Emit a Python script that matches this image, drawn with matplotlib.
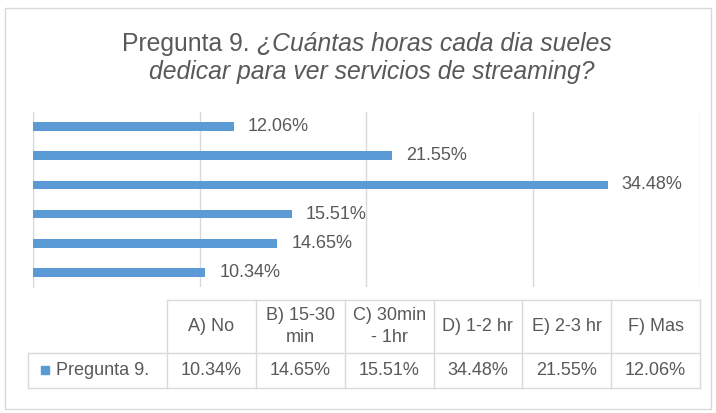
import matplotlib
matplotlib.use("Agg")
import matplotlib.pyplot as plt
import numpy as np
from matplotlib.patches import Rectangle

# data
categories = ["A) No", "B) 15-30\nmin", "C) 30min\n- 1hr", "D) 1-2 hr", "E) 2-3 hr", "F) Mas"]
values = [10.34, 14.65, 15.51, 34.48, 21.55, 12.06]
series_name = "Pregunta 9."
title_plain = "Pregunta 9. "
title_italic_1 = "¿Cuántas horas cada dia sueles"
title_italic_2 = "dedicar para ver servicios de streaming?"

W, H = 716, 413
BLUE = "#5B9BD5"
TXT = "#595959"
GRID = "#D9D9D9"
FONT = "Liberation Sans"

plt.rcParams["font.family"] = [FONT, "DejaVu Sans"]

fig = plt.figure(figsize=(W / 100, H / 100), dpi=100)
fig.patch.set_facecolor("white")

# overlay axes in pixel coords for border, title, data table
ov = fig.add_axes([0, 0, 1, 1])
ov.set_xlim(0, W)
ov.set_ylim(H, 0)
ov.axis("off")
ov.add_patch(Rectangle((5, 8), 706, 401, fill=False, edgecolor=GRID, lw=1))

# bar chart
left, right, top, bottom = 33, 700, 112, 287
ax = fig.add_axes([left / W, 1 - bottom / H, (right - left) / W, (bottom - top) / H])
y = np.arange(len(values))
bars = ax.barh(y, values, height=0.3, color=BLUE, zorder=3)
ax.bar_label(bars, labels=[f"{v:.2f}%" for v in values], padding=10,
             fontsize=13, color=TXT)
ax.set_xlim(0, 40)
ax.set_ylim(-0.5, len(values) - 0.5)
ax.set_xticks(np.arange(0, 41, 10))
ax.grid(axis="x", color=GRID, lw=1, zorder=0)
ax.tick_params(left=False, bottom=False, labelleft=False, labelbottom=False)
for s in ["top", "right", "bottom"]:
    ax.spines[s].set_visible(False)
ax.spines["left"].set_color(GRID)
ax.set_facecolor("none")

# title, first line mixes plain and italic
fig.canvas.draw()
r = fig.canvas.get_renderer()
cx = 367
tsize = 17.8
t1 = ov.text(0, 44, title_plain, fontsize=tsize, color=TXT, va="center", ha="left")
t2 = ov.text(0, 44, title_italic_1, fontsize=tsize, color=TXT, va="center", ha="left",
             style="italic")
w1 = t1.get_window_extent(r).width
w2 = t2.get_window_extent(r).width
x0 = cx - (w1 + w2) / 2
t1.set_x(x0)
t2.set_x(x0 + w1)
ov.text(cx + 5, 72, title_italic_2, fontsize=tsize, color=TXT, va="center", ha="center",
        style="italic")

# data table
tl, tr = 28, 700
t_top, t_mid, t_bot = 300, 353, 388
edges = np.linspace(167, tr, len(categories) + 1)
ov.plot([edges[0], tr], [t_top, t_top], color=GRID, lw=1)
ov.plot([tl, tr], [t_mid, t_mid], color=GRID, lw=1)
ov.plot([tl, tr], [t_bot, t_bot], color=GRID, lw=1)
ov.plot([tl, tl], [t_mid, t_bot], color=GRID, lw=1)
for e in edges:
    ov.plot([e, e], [t_top, t_bot], color=GRID, lw=1)
for i, (c, v) in enumerate(zip(categories, values)):
    xc = (edges[i] + edges[i + 1]) / 2
    ov.text(xc, (t_top + t_mid) / 2, c, fontsize=13, color=TXT, ha="center",
            va="center", linespacing=1.4)
    ov.text(xc, (t_mid + t_bot) / 2, f"{v:.2f}%", fontsize=13, color=TXT,
            ha="center", va="center")
ov.add_patch(Rectangle((41, 366), 8, 8, color=BLUE))
ov.text(56, (t_mid + t_bot) / 2, series_name, fontsize=13, color=TXT, ha="left",
        va="center")

fig.savefig("out.png", dpi=100, facecolor="white")
